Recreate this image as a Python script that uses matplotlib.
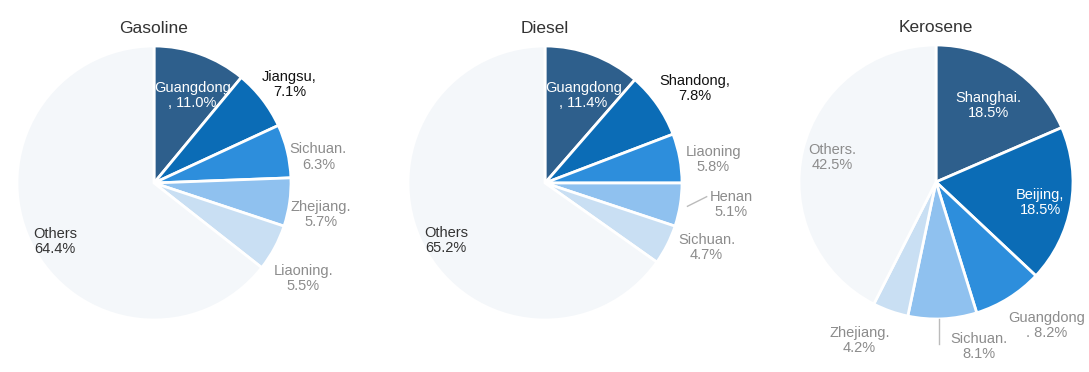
import matplotlib.pyplot as plt

# Shares by province (%)
gas_labels = ["Guangdong\n, 11.0%", "Jiangsu,\n7.1%", "Sichuan.\n6.3%",
              "Zhejiang.\n5.7%", "Liaoning.\n5.5%", "Others\n64.4%"]
gas_values = [11.0, 7.1, 6.3, 5.7, 5.5, 64.4]

diesel_labels = ["Guangdong\n, 11.4%", "Shandong,\n7.8%", "Liaoning\n5.8%",
                 "Henan\n5.1%", "Sichuan.\n4.7%", "Others\n65.2%"]
diesel_values = [11.4, 7.8, 5.8, 5.1, 4.7, 65.2]

kero_labels = ["Shanghai.\n18.5%", "Beijing,\n18.5%", "Guangdong\n. 8.2%",
               "Sichuan.\n8.1%", "Zhejiang.\n4.2%", "Others.\n42.5%"]
kero_values = [18.5, 18.5, 8.2, 8.1, 4.2, 42.5]

titles = ["Gasoline", "Diesel", "Kerosene"]

colors = ["#2e5f8c", "#0b6cb6", "#2d8edc", "#8fc1ef", "#c9dff3", "#f4f7fa"]

# label placement in pie-radius units, and text colours
gas_pos = [(0.28, 0.64), (0.99, 0.72), (1.20, 0.19), (1.22, -0.23), (1.09, -0.70), (-0.72, -0.43)]
diesel_pos = [(0.28, 0.64), (1.09, 0.69), (1.23, 0.17), (1.36, -0.16), (1.18, -0.47), (-0.72, -0.42)]
kero_pos = [(0.38, 0.56), (0.76, -0.15), (0.81, -1.05), (0.31, -1.20), (-0.56, -1.16), (-0.76, 0.18)]

grey = "#8c8c8c"
gas_tc = ["white", "#111111", grey, grey, grey, "#333333"]
diesel_tc = ["white", "#111111", grey, grey, grey, "#333333"]
kero_tc = ["white", "white", grey, grey, grey, grey]

W, H = 1089, 372
centers = [(154, 183), (545, 183), (936, 182)]
r = 137

plt.rcParams['font.family'] = ['Liberation Sans', 'DejaVu Sans']
fig = plt.figure(figsize=(W / 100, H / 100), dpi=100)

panels = [(gas_values, gas_labels, gas_pos, gas_tc),
          (diesel_values, diesel_labels, diesel_pos, diesel_tc),
          (kero_values, kero_labels, kero_pos, kero_tc)]

for i, (vals, labs, pos, tc) in enumerate(panels):
    cx, cy = centers[i]
    ax = fig.add_axes([(cx - r) / W, (H - cy - r) / H, 2 * r / W, 2 * r / H])
    ax.pie(vals, colors=colors, startangle=90, counterclock=False, radius=1,
           wedgeprops=dict(edgecolor="white", linewidth=2))
    ax.set_xlim(-1, 1)
    ax.set_ylim(-1, 1)
    ax.set_aspect("equal")
    ax.axis("off")
    for lab, (x, y), c in zip(labs, pos, tc):
        ax.text(x, y, lab, ha="center", va="center", fontsize=10.5, color=c,
                linespacing=1.1, clip_on=False)
    ax.text(0, 1.13, titles[i], ha="center", va="center", fontsize=12.5,
            color="#333333", clip_on=False)

# leader lines
fig.axes[1].plot([1.04, 1.18], [-0.17, -0.10], color="#bbbbbb", lw=1, clip_on=False)
fig.axes[2].plot([0.02, 0.02], [-1.0, -1.18], color="#bbbbbb", lw=1, clip_on=False)

fig.savefig("out.png", dpi=100, facecolor="white")
